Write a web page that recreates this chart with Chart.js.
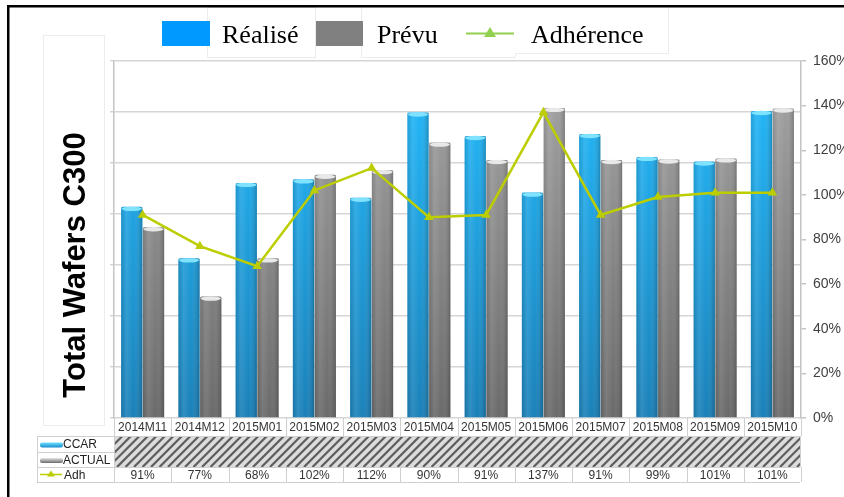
<!DOCTYPE html>
<html>
<head>
<meta charset="utf-8">
<script src="https://cdn.jsdelivr.net/npm/chart.js@4"></script>
<style>
  html, body { margin: 0; padding: 0; background: #fff; }
  #wrap { width: 844px; height: 497px; }
</style>
</head>
<body>
<div id="wrap"><canvas id="c" width="844" height="497"></canvas></div>
<script>
// Monthly wafer output (C300) vs plan, with adherence in %
const months = ['2014M11','2014M12','2015M01','2015M02','2015M03','2015M04','2015M05','2015M06','2015M07','2015M08','2015M09','2015M10'];
const realise = [4140, 3130, 4610, 4680, 4320, 5990, 5530, 4420, 5570, 5120, 5030, 6020];
const prevu   = [3740, 2380, 3130, 4770, 4860, 5400, 5060, 6080, 5060, 5070, 5090, 6070];
const adherence = [91, 77, 68, 102, 112, 90, 91, 137, 91, 99, 101, 101];
const pctTicks = [0, 20, 40, 60, 80, 100, 120, 140, 160];
const tableRows = ['CCAR', 'ACTUAL', 'Adh'];

const BLUE = '#0099ff';
const GREY = '#808080';
const LINE = '#bccd00';
const SANS = '"Liberation Sans", Arial, sans-serif';
const SERIF = '"Liberation Serif", "Times New Roman", serif';

function vGrad(ctx, area, top, bottom) {
  const g = ctx.createLinearGradient(0, area.top, 0, area.bottom);
  g.addColorStop(0, top);
  g.addColorStop(1, bottom);
  return g;
}

function barFill(top, bottom) {
  return (c) => {
    const area = c.chart.chartArea;
    if (!area) return top;
    return vGrad(c.chart.ctx, area, top, bottom);
  };
}

// Cylinder shading and light caps on the bars
const barShade = {
  id: 'barShade',
  afterDatasetDraw(chart, args) {
    const ds = chart.data.datasets[args.index];
    if (ds.type === 'line') return;
    const ctx = chart.ctx;
    const cap = ds.capColor;
    args.meta.data.forEach((bar) => {
      const w = bar.width, x0 = bar.x - w / 2, h = bar.base - bar.y;
      ctx.save();
      const g = ctx.createLinearGradient(x0, 0, x0 + w, 0);
      g.addColorStop(0, 'rgba(0,0,0,0.10)');
      g.addColorStop(0.25, 'rgba(255,255,255,0.10)');
      g.addColorStop(0.6, 'rgba(255,255,255,0)');
      g.addColorStop(1, 'rgba(0,0,0,0.22)');
      ctx.fillStyle = g;
      ctx.fillRect(x0, bar.y, w, h);
      ctx.beginPath();
      ctx.ellipse(bar.x, bar.y + 2, w / 2 - 0.5, 2.2, 0, 0, Math.PI * 2);
      ctx.fillStyle = cap;
      ctx.fill();
      ctx.restore();
    });
  }
};

const decor = {
  id: 'decor',
  beforeDraw(chart) {
    const ctx = chart.ctx;
    ctx.save();
    ctx.fillStyle = '#fff';
    ctx.fillRect(0, 0, chart.width, chart.height);
    // faint panel behind the vertical title
    ctx.strokeStyle = '#ececec';
    ctx.lineWidth = 1;
    ctx.strokeRect(43.5, 35.5, 61, 390);
    // faint boxes behind legend texts
    ctx.strokeRect(207.5, 7.5, 108, 50);
    ctx.beginPath();
    ctx.moveTo(361.5, 7);
    ctx.lineTo(361.5, 57.5);
    ctx.lineTo(515.5, 57.5);
    ctx.lineTo(515.5, 53.5);
    ctx.lineTo(668.5, 53.5);
    ctx.lineTo(668.5, 7);
    ctx.stroke();
    ctx.restore();
  },
  afterDraw(chart) {
    const ctx = chart.ctx;
    const area = chart.chartArea;
    const xs = chart.scales.x;
    const n = months.length;
    const cw = (area.right - area.left) / n;
    ctx.save();

    // vertical title
    ctx.save();
    ctx.translate(85, 265);
    ctx.rotate(-Math.PI / 2);
    ctx.font = 'bold 31px ' + SANS;
    ctx.fillStyle = '#000';
    ctx.textAlign = 'center';
    ctx.textBaseline = 'alphabetic';
    ctx.fillText('Total Wafers C300', 0, 0);
    ctx.restore();

    // legend
    const ds = chart.data.datasets;
    ctx.font = '26px ' + SERIF;
    ctx.fillStyle = '#000';
    ctx.textBaseline = 'alphabetic';
    ctx.textAlign = 'left';
    ctx.fillStyle = BLUE;
    ctx.fillRect(162, 21, 48, 25);
    ctx.fillStyle = GREY;
    ctx.fillRect(316, 21, 47, 25);
    ctx.fillStyle = '#000';
    ctx.fillText(ds[0].label, 222, 43);
    ctx.fillText(ds[1].label, 377, 43);
    ctx.fillText(ds[2].label, 531, 43);
    ctx.strokeStyle = '#92d050';
    ctx.lineWidth = 2;
    ctx.beginPath();
    ctx.moveTo(466, 33.5);
    ctx.lineTo(514, 33.5);
    ctx.stroke();
    ctx.fillStyle = '#92d050';
    ctx.beginPath();
    ctx.moveTo(490, 27);
    ctx.lineTo(496, 37);
    ctx.lineTo(484, 37);
    ctx.closePath();
    ctx.fill();

    // data table under the plot
    const top = area.bottom, r1 = 436, r2 = 452, r3 = 467, r4 = 482;
    const tl = 37, tr = area.right - 1;
    // hatched band
    ctx.save();
    ctx.beginPath();
    ctx.rect(area.left, r1, tr - area.left, r3 - r1);
    ctx.clip();
    ctx.fillStyle = '#dcdcdc';
    ctx.fillRect(area.left, r1, tr - area.left, r3 - r1);
    ctx.strokeStyle = '#5e5e5e';
    ctx.lineWidth = 2.2;
    const hh = r3 - r1;
    for (let k = area.left - hh; k < tr + 10; k += 8.5) {
      ctx.beginPath();
      ctx.moveTo(k, r3);
      ctx.lineTo(k + hh, r1);
      ctx.stroke();
    }
    ctx.restore();

    ctx.strokeStyle = '#cfcfcf';
    ctx.lineWidth = 1;
    ctx.beginPath();
    [r1, r3, r4].forEach((y) => { ctx.moveTo(tl, y + 0.5); ctx.lineTo(tr, y + 0.5); });
    ctx.moveTo(tl, r2 + 0.5); ctx.lineTo(area.left, r2 + 0.5);
    ctx.moveTo(tl + 0.5, r1); ctx.lineTo(tl + 0.5, r4);
    for (let i = 0; i <= n; i++) {
      const x = Math.round(area.left + i * cw) + 0.5;
      ctx.moveTo(x, top); ctx.lineTo(x, r1);
      ctx.moveTo(x, r3); ctx.lineTo(x, r4);
    }
    ctx.moveTo(area.left + 0.5, r1); ctx.lineTo(area.left + 0.5, r3);
    ctx.moveTo(tr + 0.5, r1); ctx.lineTo(tr + 0.5, r3);
    ctx.stroke();

    ctx.font = '12px ' + SANS;
    ctx.fillStyle = '#333';
    ctx.textAlign = 'center';
    ctx.textBaseline = 'middle';
    months.forEach((m, i) => {
      const x = xs.getPixelForValue(i);
      ctx.fillText(m, x, (top + r1) / 2 + 1);
      ctx.fillText(adherence[i] + '%', x, (r3 + r4) / 2 + 1);
    });

    // row headers with their swatches
    ctx.textAlign = 'left';
    const sw = (y, c1, c2) => {
      const g = ctx.createLinearGradient(0, y - 2.5, 0, y + 2.5);
      g.addColorStop(0, c1);
      g.addColorStop(1, c2);
      ctx.fillStyle = g;
      ctx.beginPath();
      ctx.roundRect(40, y - 2.5, 23, 5, 2);
      ctx.fill();
    };
    sw((r1 + r2) / 2 + 1, '#6fe0ff', '#1a8ccc');
    sw((r2 + r3) / 2 + 1, '#e6e6e6', '#6a6a6a');
    const yA = (r3 + r4) / 2;
    ctx.strokeStyle = LINE;
    ctx.lineWidth = 1.5;
    ctx.beginPath();
    ctx.moveTo(40, yA); ctx.lineTo(62, yA);
    ctx.stroke();
    ctx.fillStyle = LINE;
    ctx.beginPath();
    ctx.moveTo(51, yA - 4); ctx.lineTo(55, yA + 2); ctx.lineTo(47, yA + 2);
    ctx.closePath();
    ctx.fill();
    ctx.fillStyle = '#222';
    ctx.fillText(tableRows[0], 63, (r1 + r2) / 2 + 1);
    ctx.fillText(tableRows[1], 63, (r2 + r3) / 2 + 1);
    ctx.fillText(tableRows[2], 64, yA + 1);

    // outer frame (top and left)
    ctx.fillStyle = '#000';
    ctx.fillRect(7, 5, chart.width - 7, 2.5);
    ctx.fillRect(7, 5, 2.5, chart.height - 5);
    ctx.restore();
  }
};

new Chart(document.getElementById('c'), {
  type: 'bar',
  data: {
    labels: months,
    datasets: [
      {
        label: 'Réalisé',
        data: realise,
        yAxisID: 'y',
        order: 1,
        backgroundColor: barFill('#22bcff', '#1a80b8'),
        capColor: '#7fe3ff',
        borderRadius: { topLeft: 2, topRight: 2 },
        borderSkipped: 'bottom',
        categoryPercentage: 0.76,
        barPercentage: 0.98
      },
      {
        label: 'Prévu',
        data: prevu,
        yAxisID: 'y',
        order: 1,
        backgroundColor: barFill('#a6a6a6', '#6a6a6a'),
        capColor: '#e8e8e8',
        borderRadius: { topLeft: 2, topRight: 2 },
        borderSkipped: 'bottom',
        categoryPercentage: 0.76,
        barPercentage: 0.98
      },
      {
        type: 'line',
        label: 'Adhérence',
        data: adherence,
        yAxisID: 'y1',
        order: 0,
        borderColor: LINE,
        backgroundColor: LINE,
        borderWidth: 2.5,
        tension: 0,
        pointStyle: 'triangle',
        pointRadius: 5.5,
        pointBorderWidth: 0,
        pointBackgroundColor: LINE
      }
    ]
  },
  options: {
    responsive: false,
    animation: false,
    devicePixelRatio: 1,
    layout: { padding: { top: 61, bottom: 79, left: 0, right: 0 } },
    plugins: { legend: { display: false }, tooltip: { enabled: false } },
    scales: {
      x: { display: false, offset: true },
      y: {
        position: 'left',
        min: 0,
        max: 7000,
        ticks: { display: false, stepSize: 1000 },
        grid: { color: '#d6d6d6', lineWidth: 1.5, tickLength: 4, drawTicks: true },
        border: { display: true, color: '#c4c4c4', width: 1.5 },
        afterFit(s) { s.width = 114; }
      },
      y1: {
        position: 'right',
        min: pctTicks[0],
        max: pctTicks[pctTicks.length - 1],
        afterBuildTicks(s) { s.ticks = pctTicks.map((v) => ({ value: v })); },
        ticks: {
          callback: (v) => v + '%',
          font: { family: SANS, size: 14 },
          color: '#404040',
          padding: 7
        },
        grid: { drawOnChartArea: false, tickLength: 5, color: '#c4c4c4', lineWidth: 1.5 },
        border: { color: '#c4c4c4', width: 1.5 },
        afterFit(s) { s.width = 43; }
      }
    }
  },
  plugins: [decor, barShade]
});
</script>
</body>
</html>
